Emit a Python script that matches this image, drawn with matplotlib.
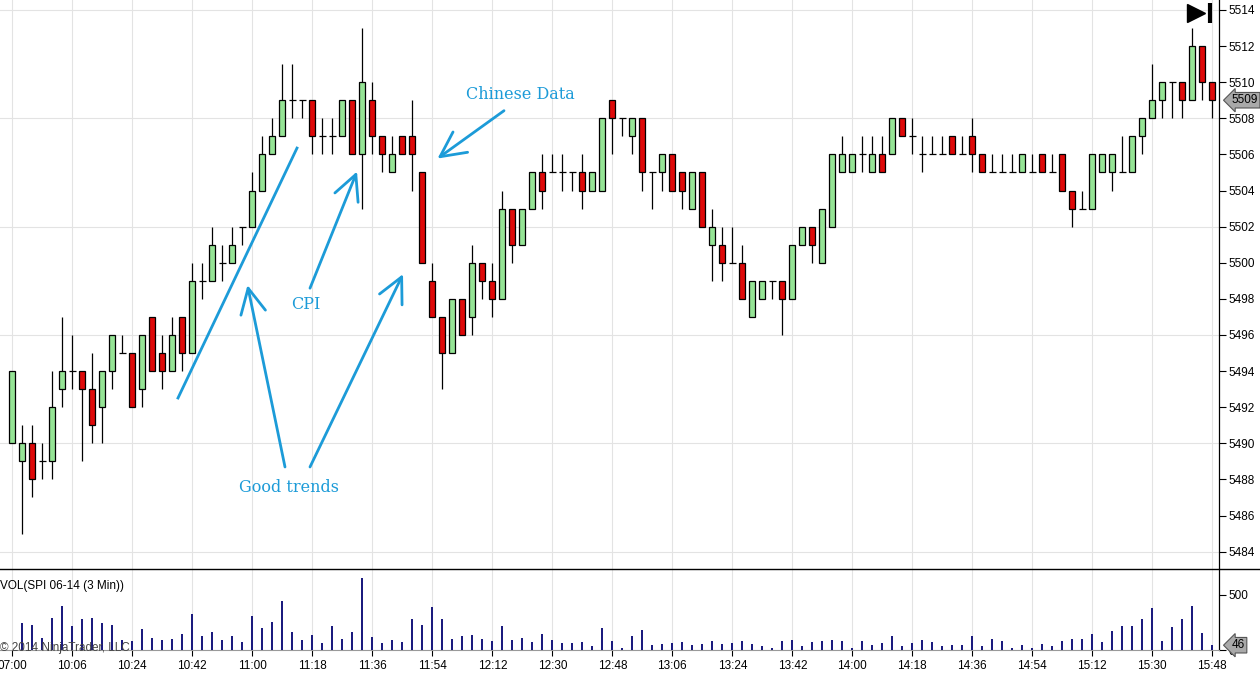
import numpy as np
import matplotlib.pyplot as plt
from matplotlib.lines import Line2D
import matplotlib.transforms as mtransforms

# SPI 06-14, 3 minute bars
opens = [5490, 5489, 5490, 5489, 5489, 5493, 5494, 5494, 5493, 5492,
         5494, 5495, 5495, 5493, 5497, 5495, 5494, 5497, 5495, 5499,
         5499, 5500, 5500, 5502, 5502, 5504, 5506, 5507, 5509, 5509,
         5509, 5507, 5507, 5507, 5509, 5506, 5509, 5507, 5505, 5507,
         5507, 5505, 5499, 5497, 5495, 5498, 5497, 5500, 5499, 5498,
         5503, 5501, 5503, 5505, 5505, 5505, 5505, 5505, 5504, 5504,
         5509, 5508, 5507, 5508, 5505, 5505, 5506, 5505, 5503, 5505,
         5501, 5501, 5500, 5500, 5497, 5498, 5499, 5499, 5498, 5501,
         5502, 5500, 5502, 5505, 5505, 5506, 5505, 5506, 5506, 5508,
         5507, 5506, 5506, 5506, 5507, 5506, 5507, 5506, 5505, 5505,
         5505, 5505, 5505, 5506, 5505, 5506, 5504, 5503, 5503, 5505,
         5505, 5505, 5505, 5507, 5508, 5509, 5510, 5510, 5509, 5512,
         5510]
highs = [5494, 5491, 5491, 5490, 5494, 5497, 5496, 5494, 5495, 5494,
         5496, 5496, 5495, 5496, 5497, 5496, 5497, 5497, 5500, 5500,
         5502, 5501, 5502, 5502, 5505, 5507, 5508, 5511, 5511, 5509,
         5509, 5508, 5508, 5509, 5509, 5513, 5510, 5507, 5507, 5507,
         5509, 5505, 5500, 5497, 5498, 5498, 5501, 5500, 5500, 5504,
         5503, 5503, 5505, 5506, 5506, 5506, 5505, 5506, 5505, 5508,
         5509, 5508, 5508, 5508, 5505, 5506, 5506, 5505, 5505, 5505,
         5503, 5502, 5502, 5501, 5499, 5499, 5499, 5499, 5501, 5502,
         5502, 5503, 5506, 5507, 5506, 5507, 5507, 5507, 5508, 5508,
         5508, 5507, 5507, 5507, 5507, 5507, 5508, 5506, 5506, 5506,
         5506, 5506, 5506, 5506, 5506, 5506, 5504, 5504, 5506, 5506,
         5506, 5507, 5507, 5508, 5511, 5510, 5510, 5510, 5513, 5512,
         5510]
lows = [5490, 5485, 5487, 5488, 5488, 5492, 5493, 5489, 5490, 5490,
        5493, 5495, 5492, 5492, 5494, 5493, 5494, 5494, 5495, 5498,
        5499, 5499, 5500, 5501, 5502, 5504, 5506, 5507, 5508, 5508,
        5506, 5506, 5506, 5507, 5506, 5503, 5506, 5505, 5505, 5506,
        5504, 5500, 5497, 5493, 5495, 5496, 5496, 5498, 5497, 5498,
        5500, 5501, 5503, 5503, 5505, 5504, 5504, 5503, 5504, 5504,
        5506, 5507, 5506, 5504, 5503, 5504, 5504, 5503, 5503, 5502,
        5499, 5499, 5500, 5498, 5497, 5498, 5498, 5496, 5498, 5501,
        5500, 5500, 5502, 5505, 5505, 5505, 5505, 5505, 5506, 5507,
        5506, 5505, 5506, 5506, 5506, 5506, 5505, 5505, 5505, 5505,
        5505, 5505, 5505, 5505, 5505, 5504, 5502, 5503, 5503, 5505,
        5504, 5505, 5505, 5506, 5508, 5508, 5508, 5508, 5509, 5509,
        5508]
closes = [5494, 5490, 5488, 5489, 5492, 5494, 5494, 5493, 5491, 5494,
          5496, 5495, 5492, 5496, 5494, 5494, 5496, 5495, 5499, 5499,
          5501, 5500, 5501, 5502, 5504, 5506, 5507, 5509, 5509, 5509,
          5507, 5507, 5507, 5509, 5506, 5510, 5507, 5506, 5506, 5506,
          5506, 5500, 5497, 5495, 5498, 5496, 5500, 5499, 5498, 5503,
          5501, 5503, 5505, 5504, 5505, 5505, 5505, 5504, 5505, 5508,
          5508, 5508, 5508, 5505, 5505, 5506, 5504, 5504, 5505, 5502,
          5502, 5500, 5500, 5498, 5499, 5499, 5499, 5498, 5501, 5502,
          5501, 5503, 5506, 5506, 5506, 5506, 5506, 5505, 5508, 5507,
          5507, 5506, 5506, 5506, 5506, 5506, 5506, 5505, 5505, 5505,
          5505, 5506, 5505, 5505, 5505, 5504, 5503, 5503, 5506, 5506,
          5506, 5505, 5507, 5508, 5509, 5510, 5510, 5509, 5512, 5510,
          5509]
volumes = [0, 247, 229, 111, 295, 403, 220, 286, 295, 247,
           229, 93, 84, 193, 111, 93, 102, 147, 328, 129,
           166, 93, 129, 75, 310, 202, 256, 445, 166, 93,
           138, 66, 220, 102, 166, 653, 120, 66, 93, 75,
           283, 229, 391, 283, 102, 129, 138, 102, 84, 220,
           93, 111, 75, 147, 93, 66, 66, 75, 39, 202,
           84, 21, 129, 184, 48, 57, 66, 75, 48, 57,
           84, 57, 66, 84, 57, 39, 21, 84, 93, 39,
           75, 84, 93, 84, 21, 84, 48, 66, 129, 39,
           66, 93, 75, 39, 48, 48, 129, 39, 102, 84,
           21, 48, 21, 57, 39, 84, 102, 102, 147, 75,
           175, 220, 220, 283, 382, 84, 211, 283, 400, 157,
           46]
time_labels = ['07:00', '10:06', '10:24', '10:42', '11:00', '11:18', '11:36',
               '11:54', '12:12', '12:30', '12:48', '13:06', '13:24', '13:42',
               '14:00', '14:18', '14:36', '14:54', '15:12', '15:30', '15:48']

up_color = '#95e495'
down_color = '#de0909'
vol_color = '#1b1b7e'
note_color = '#1c9bd8'
grid_color = '#e3e3e3'

o = np.array(opens)
h = np.array(highs)
l = np.array(lows)
c = np.array(closes)
idx = np.arange(len(o))

plt.rcParams['font.family'] = ['Liberation Sans', 'DejaVu Sans']

fig = plt.figure(figsize=(12.6, 6.76), dpi=100)
ax = fig.add_axes([0, 107 / 676, 1219 / 1260, 569 / 676])
axv = fig.add_axes([0, 25.7 / 676, 1219 / 1260, 81.3 / 676], sharex=ax)

# price panel
ax.vlines(idx, l, h, color='black', lw=0.9, zorder=2)
body = o != c
ax.bar(idx[body], np.abs(c - o)[body], bottom=np.minimum(o, c)[body], width=0.6,
       color=np.where(c > o, up_color, down_color)[body],
       edgecolor='black', linewidth=0.9, zorder=3)
ax.hlines(c[~body], idx[~body] - 0.35, idx[~body] + 0.35, color='black', lw=0.9, zorder=3)

ax.set_xlim(-1.23, 120.67)
ax.set_ylim(5483.04, 5514.55)
ax.set_yticks(range(5484, 5515, 2))
for y in range(5484, 5515, 6):
    ax.axhline(y, color=grid_color, lw=0.8, zorder=0)
ax.set_xticks(idx[::6])
ax.grid(axis='x', color=grid_color, lw=0.8, zorder=0)
ax.set_axisbelow(True)
ax.yaxis.tick_right()
ax.tick_params(axis='y', length=5, width=0.8, labelsize=8.5, pad=2)
ax.tick_params(axis='x', length=0, labelbottom=False)
for s in ['top', 'left', 'bottom']:
    ax.spines[s].set_visible(False)
ax.spines['right'].set_linewidth(0.9)

# last price marker
trans = mtransforms.blended_transform_factory(ax.transAxes, ax.transData)
ax.text(1.0105, c[-1], str(c[-1]), transform=trans, fontsize=8.5, va='center', ha='left',
        bbox=dict(boxstyle='larrow,pad=0.15', fc='#a9a9a9', ec='#555555', lw=0.8))

# end-of-chart icon
ax.plot([0.9815], [0.977], marker='>', ms=13, color='black', transform=ax.transAxes, clip_on=False)
ax.plot([0.9925, 0.9925], [0.960, 0.995], color='black', lw=3, transform=ax.transAxes, solid_capstyle='butt')

# annotations
serif = ['DejaVu Serif']
ax.text(50.77, 5509.3, 'Chinese Data', color=note_color, fontsize=11.5, family=serif, ha='center', va='center')
ax.text(29.37, 5497.66, 'CPI', color=note_color, fontsize=11.5, family=serif, ha='center', va='center')
ax.text(27.67, 5487.53, 'Good trends', color=note_color, fontsize=11.5, family=serif, ha='center', va='center')
arrow = dict(arrowstyle='->,head_length=0.9,head_width=0.45', color=note_color, lw=2,
             mutation_scale=20, shrinkA=0, shrinkB=0)
ax.annotate('', xy=(42.52, 5505.77), xytext=(49.17, 5508.42), arrowprops=arrow)
ax.annotate('', xy=(34.47, 5505.05), xytext=(29.77, 5498.59), arrowprops=arrow)
ax.annotate('', xy=(23.52, 5498.76), xytext=(27.27, 5488.69), arrowprops=arrow)
ax.annotate('', xy=(39.07, 5499.37), xytext=(29.77, 5488.69), arrowprops=arrow)
ax.plot([16.57, 28.47], [5492.51, 5506.35], color=note_color, lw=2)

# volume panel
axv.bar(idx, volumes, width=0.22, color=vol_color, zorder=3)
axv.set_ylim(0, 735)
axv.set_yticks([0, 500])
axv.yaxis.tick_right()
axv.tick_params(axis='y', length=5, width=0.8, labelsize=8.5, pad=2)
axv.set_xticks(idx[::6])
axv.set_xticklabels(time_labels)
axv.tick_params(axis='x', length=4, width=0.8, labelsize=8.5, pad=3)
axv.grid(axis='x', color=grid_color, lw=0.8, zorder=0)
axv.set_axisbelow(True)
for s in ['top', 'left']:
    axv.spines[s].set_visible(False)
axv.spines['bottom'].set_color('#9a9a9a')
axv.spines['right'].set_linewidth(0.9)
vtrans = mtransforms.blended_transform_factory(axv.transAxes, axv.transData)
axv.text(1.0105, volumes[-1], str(volumes[-1]), transform=vtrans, fontsize=8.5, va='center', ha='left',
         zorder=6, bbox=dict(boxstyle='larrow,pad=0.15', fc='#a9a9a9', ec='#555555', lw=0.8))
axv.text(0.0, 0.79, 'VOL(SPI 06-14 (3 Min))', transform=axv.transAxes, fontsize=8.5, va='center', ha='left')
axv.text(0.0, 0.03, '\u00a9 2014 NinjaTrader, LLC', transform=axv.transAxes, fontsize=8.5,
         va='center', ha='left', color='#444444', zorder=5)

fig.add_artist(Line2D([0, 1], [1 - 569 / 676] * 2, color='black', lw=1))

fig.savefig('out.png', dpi=100)
